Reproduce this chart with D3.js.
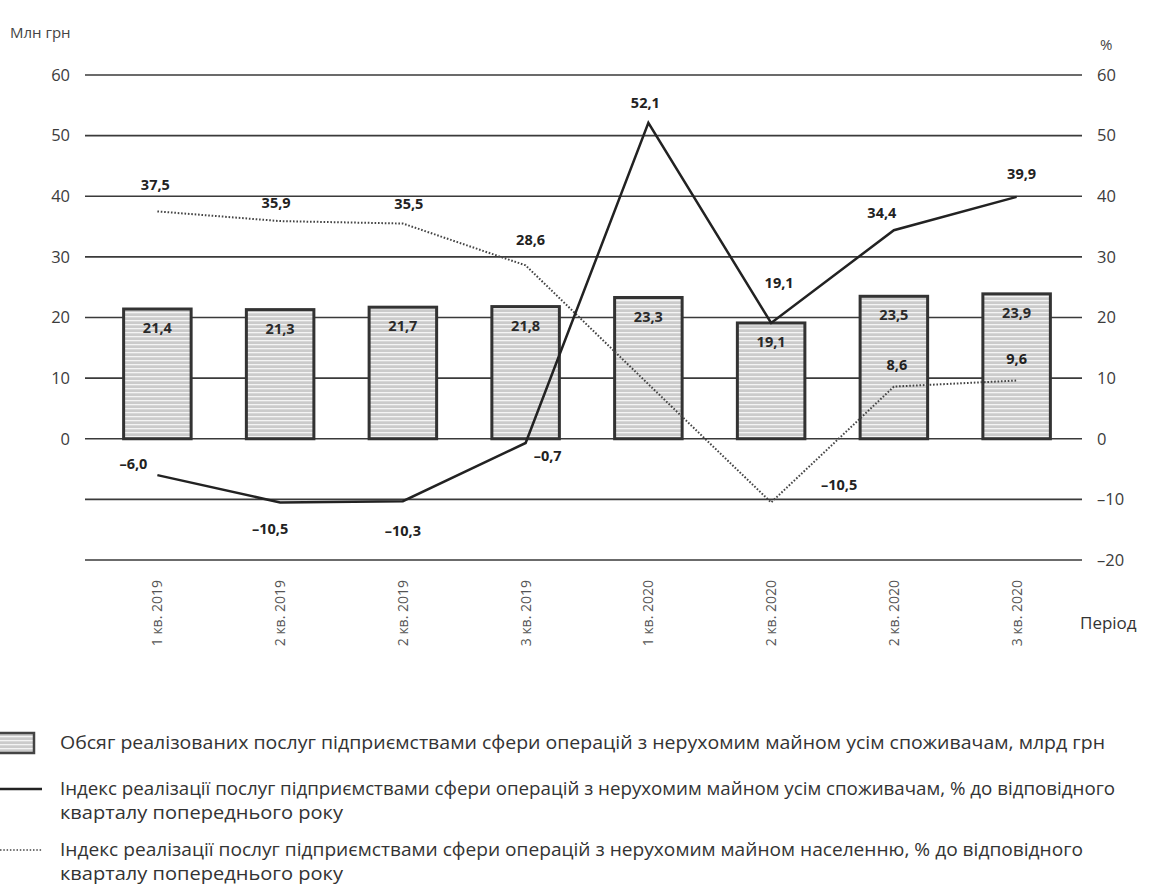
<!DOCTYPE html>
<html>
<head>
<meta charset="utf-8">
<script src="https://cdn.jsdelivr.net/npm/d3@7"></script>
<style>
  body { margin: 0; background: #fff; }
  svg { display: block; font-family: 'Open Sans', 'Noto Sans', sans-serif; }
</style>
</head>
<body>
<svg id="chart" width="1174" height="887"></svg>
<script>
// data
const quarters = ['1 кв. 2019', '2 кв. 2019', '2 кв. 2019', '3 кв. 2019', '1 кв. 2020', '2 кв. 2020', '2 кв. 2020', '3 кв. 2020']
const volume = [21.4, 21.3, 21.7, 21.8, 23.3, 19.1, 23.5, 23.9]
const indexAll = [-6.0, -10.5, -10.3, -0.7, 52.1, 19.1, 34.4, 39.9]
const indexPop = [37.5, 35.9, 35.5, 28.6, 9.0, -10.5, 8.6, 9.6]
const indexPopShown = [true, true, true, true, false, true, true, true]
const leftTicks = [0, 10, 20, 30, 40, 50, 60]
const rightTicks = [-20, -10, 0, 10, 20, 30, 40, 50, 60]
const legendLabels = [
  ['Обсяг реалізованих послуг підприємствами сфери операцій з нерухомим майном усім споживачам, млрд грн'],
  ['Індекс реалізації  послуг підприємствами сфери операцій з нерухомим майном усім споживачам, % до відповідного', 'кварталу попереднього року'],
  ['Індекс реалізації  послуг підприємствами сфери операцій з нерухомим майном населенню, % до відповідного', 'кварталу попереднього року']
]

// label nudges [dx, dy] from the point
const allOffsets = [[-24, -11], [-10, 27], [0, 30], [22, 13], [-3, -20], [8, -40], [-12, -17], [5, -23]]
const popOffsets = [[-2, -26], [-4, -18], [6, -20], [5, -25], [0, 0], [68, -17], [3, -22], [0, -22]]
// legend text widths, to match the condensed face of the original
const legendWidths = [[1045], [1055, 283], [1023, 283]]

const fmt = v => (v < 0 ? '–' : '') + d3.format('.1f')(Math.abs(v)).replace('.', ',')
const tickFmt = v => (v < 0 ? '–' : '') + Math.abs(v)

const svg = d3.select('#chart')
const gridLeft = 85, gridRight = 1082

const x = d3.scaleBand()
  .domain(d3.range(quarters.length))
  .range([96, 1078])
  .paddingInner(0.45)
  .paddingOuter(0.225)

const y = d3.scaleLinear().domain([-20, 60]).range([560, 75])
const cx = i => x(i) + x.bandwidth() / 2

// hatch pattern for bars
const defs = svg.append('defs')
const pat = defs.append('pattern')
  .attr('id', 'hatch')
  .attr('patternUnits', 'userSpaceOnUse')
  .attr('width', 8).attr('height', 4)
pat.append('rect').attr('width', 8).attr('height', 4).attr('fill', '#cbcbcb')
pat.append('rect').attr('width', 8).attr('height', 1.3).attr('fill', '#f4f4f4')

// gridlines
svg.append('g')
  .selectAll('line')
  .data(rightTicks)
  .join('line')
  .attr('x1', gridLeft).attr('x2', gridRight)
  .attr('y1', d => y(d)).attr('y2', d => y(d))
  .attr('stroke', '#3a3a3a')
  .attr('stroke-width', 1.6)

// axis labels
svg.append('g')
  .selectAll('text')
  .data(leftTicks)
  .join('text')
  .attr('x', 70).attr('y', d => y(d)).attr('dy', '0.35em')
  .attr('text-anchor', 'end')
  .attr('font-size', 16.5).attr('fill', '#3c3c3c')
  .text(tickFmt)

svg.append('g')
  .selectAll('text')
  .data(rightTicks)
  .join('text')
  .attr('x', 1097).attr('y', d => y(d)).attr('dy', '0.35em')
  .attr('font-size', 16.5).attr('fill', '#3c3c3c')
  .text(tickFmt)

svg.append('text').attr('x', 10).attr('y', 38)
  .attr('font-size', 15).attr('fill', '#444').text('Млн грн')
svg.append('text').attr('x', 1100).attr('y', 50)
  .attr('font-size', 15).attr('fill', '#444').text('%')

// bars
svg.append('g')
  .selectAll('rect')
  .data(volume)
  .join('rect')
  .attr('x', (d, i) => x(i))
  .attr('y', d => y(d))
  .attr('width', x.bandwidth())
  .attr('height', d => y(0) - y(d))
  .attr('fill', 'url(#hatch)')
  .attr('stroke', '#333')
  .attr('stroke-width', 3)

svg.append('g')
  .selectAll('text')
  .data(volume)
  .join('text')
  .attr('x', (d, i) => cx(i))
  .attr('y', d => y(d) + 19)
  .attr('dy', '0.35em')
  .attr('text-anchor', 'middle')
  .attr('font-size', 14.5).attr('font-weight', 700).attr('fill', '#2a2a2a')
  .text(fmt)

// lines
const line = d3.line().x((d, i) => cx(i)).y(d => y(d))

svg.append('path')
  .datum(indexPop)
  .attr('d', line)
  .attr('fill', 'none')
  .attr('stroke', '#444')
  .attr('stroke-width', 2)
  .attr('stroke-dasharray', '1.6,1.8')

svg.append('path')
  .datum(indexAll)
  .attr('d', line)
  .attr('fill', 'none')
  .attr('stroke', '#222')
  .attr('stroke-width', 2.5)

const labelG = svg.append('g')
  .attr('font-size', 14.5).attr('font-weight', 700).attr('fill', '#222')
  .attr('text-anchor', 'middle')

labelG.selectAll('text.all')
  .data(indexAll.map((v, i) => ({ v, i })))
  .join('text')
  .attr('class', 'all')
  .attr('x', d => cx(d.i) + allOffsets[d.i][0])
  .attr('y', d => y(d.v) + allOffsets[d.i][1])
  .attr('dy', '0.35em')
  .text(d => fmt(d.v))

labelG.selectAll('text.pop')
  .data(indexPop.map((v, i) => ({ v, i })).filter(d => indexPopShown[d.i]))
  .join('text')
  .attr('class', 'pop')
  .attr('x', d => cx(d.i) + popOffsets[d.i][0])
  .attr('y', d => y(d.v) + popOffsets[d.i][1])
  .attr('dy', '0.35em')
  .text(d => fmt(d.v))

// x labels
svg.append('g')
  .selectAll('text')
  .data(quarters)
  .join('text')
  .attr('transform', (d, i) => `translate(${cx(i) + 5},580) rotate(-90)`)
  .attr('text-anchor', 'end')
  .attr('font-size', 14).attr('fill', '#555')
  .text(d => d)

svg.append('text').attr('x', 1080).attr('y', 629)
  .attr('font-size', 17).attr('fill', '#333').text('Період')

// legend
const leg = svg.append('g').attr('font-size', 17.5).attr('fill', '#333')
const rowY = [743, 789, 850]

leg.append('rect')
  .attr('x', -2).attr('y', rowY[0] - 10).attr('width', 36).attr('height', 20)
  .attr('fill', 'url(#hatch)').attr('stroke', '#444').attr('stroke-width', 2.5)
leg.append('line')
  .attr('x1', 0).attr('x2', 42).attr('y1', rowY[1]).attr('y2', rowY[1])
  .attr('stroke', '#222').attr('stroke-width', 2.5)
leg.append('line')
  .attr('x1', 0).attr('x2', 42).attr('y1', rowY[2]).attr('y2', rowY[2])
  .attr('stroke', '#444').attr('stroke-width', 1.6).attr('stroke-dasharray', '1.5,1.8')

legendLabels.forEach((lines, r) => {
  lines.forEach((t, k) => {
    leg.append('text')
      .attr('x', 60).attr('y', rowY[r] + k * 24).attr('dy', '0.35em')
      .attr('textLength', legendWidths[r][k])
      .attr('lengthAdjust', 'spacingAndGlyphs')
      .text(t)
  })
})
</script>
</body>
</html>
